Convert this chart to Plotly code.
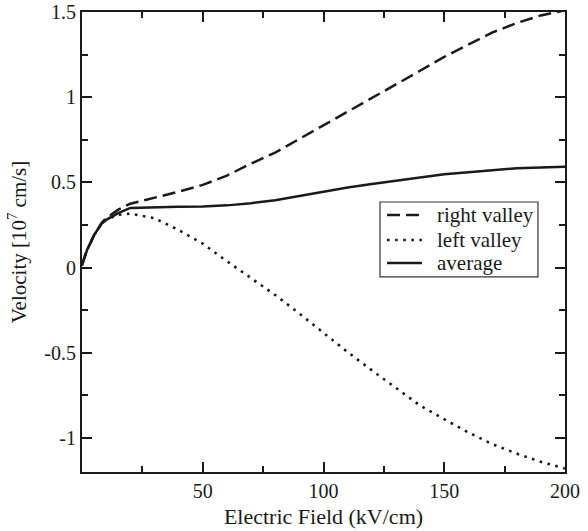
import plotly.graph_objects as go

field = [0, 2, 5, 8, 10, 15, 20, 30, 40, 50, 60, 70, 80, 90, 100, 110, 120, 130, 140, 150, 160, 170, 180, 190, 200]
right_valley = [0.02, 0.10, 0.19, 0.26, 0.29, 0.34, 0.375, 0.41, 0.445, 0.485, 0.54, 0.61, 0.675, 0.755, 0.835, 0.91, 0.995, 1.075, 1.155, 1.237, 1.31, 1.38, 1.435, 1.48, 1.51]
left_valley = [0.02, 0.10, 0.19, 0.255, 0.28, 0.31, 0.316, 0.29, 0.22, 0.14, 0.037, -0.062, -0.161, -0.27, -0.384, -0.496, -0.603, -0.709, -0.81, -0.89, -0.968, -1.037, -1.092, -1.14, -1.18]
average = [0.01, 0.10, 0.19, 0.255, 0.28, 0.32, 0.35, 0.355, 0.357, 0.358, 0.365, 0.378, 0.395, 0.42, 0.445, 0.47, 0.49, 0.51, 0.53, 0.547, 0.56, 0.573, 0.583, 0.588, 0.592]

series_names = ["right valley", "left valley", "average"]

x_tickvals = [50, 100, 150, 200]
x_ticktext = ["50", "100", "150", "200"]
y_tickvals = [-1, -0.5, 0, 0.5, 1, 1.5]
y_ticktext = ["-1", "-0.5", "0", "0.5", "1", "1.5"]

FONT = "Liberation Serif, Times New Roman, serif"
INK = "#1a1a1a"

styles = [
    dict(color=INK, width=2.5, dash="13px,6px"),
    dict(color=INK, width=2.6, dash="2.6px,5.5px"),
    dict(color=INK, width=2.5),
]

fig = go.Figure()
for name, ys, st in zip(series_names, [right_valley, left_valley, average], styles):
    fig.add_trace(go.Scatter(x=field, y=ys, mode="lines", name=name, line=st, showlegend=False))

axis_common = dict(
    showgrid=False, zeroline=False, showline=True, linecolor=INK, linewidth=2.2,
    mirror="allticks", ticks="inside", ticklen=10, tickwidth=2, tickcolor=INK,
    tickfont=dict(family=FONT, size=20, color=INK), automargin=False,
)

fig.update_xaxes(
    range=[0, 200], tickvals=x_tickvals, ticktext=x_ticktext,
    minor=dict(tickvals=[25, 75, 125, 175], ticklen=6, tickwidth=2, tickcolor=INK, ticks="inside"),
    title=dict(text="Electric Field (kV/cm)", font=dict(family=FONT, size=22, color=INK), standoff=8),
    **axis_common,
)
fig.update_yaxes(
    range=[-1.2, 1.5], tickvals=y_tickvals, ticktext=y_ticktext,
    minor=dict(tickvals=[-0.75, -0.25, 0.25, 0.75, 1.25], ticklen=6, tickwidth=2, tickcolor=INK, ticks="inside"),
    title=dict(text="Velocity [10<sup>7</sup> cm/s]", font=dict(family=FONT, size=21, color=INK), standoff=12),
    **axis_common,
)

# Legend box drawn with paper-referenced shapes/annotations (mimics the original legend layout)
box = dict(x0=0.617, x1=0.944, y0=0.424, y1=0.587)
row_y = [0.5587, 0.5043, 0.4543]
sample_x0, sample_x1, text_x = 0.6315, 0.7039, 0.7308

shapes = [dict(type="rect", xref="paper", yref="paper", **box,
               line=dict(color="#333", width=1.2), fillcolor="white", layer="above")]
annotations = []
for name, st, yy in zip(series_names, styles, row_y):
    shapes.append(dict(type="line", xref="paper", yref="paper",
                       x0=sample_x0, x1=sample_x1, y0=yy, y1=yy,
                       line=dict(color=st["color"], width=st["width"], dash=st.get("dash", "solid")),
                       layer="above"))
    annotations.append(dict(xref="paper", yref="paper", x=text_x, y=yy, text=name,
                            showarrow=False, xanchor="left", yanchor="middle",
                            font=dict(family=FONT, size=21, color=INK)))

fig.update_layout(
    width=588, height=531,
    margin=dict(l=82, r=23, t=12, b=59),
    plot_bgcolor="white", paper_bgcolor="white",
    font=dict(family=FONT, size=20, color=INK),
    showlegend=False,
    shapes=shapes, annotations=annotations,
)

fig.write_html("out.html", config={"displayModeBar": False},
               post_script="document.body.style.margin='0px';")
